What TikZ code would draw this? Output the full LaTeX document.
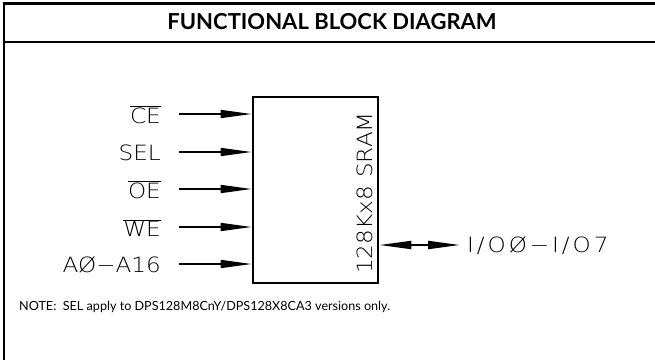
\documentclass[tikz,border=0pt]{standalone}
\usepackage{fontspec}
\usetikzlibrary{arrows.meta}
\setmainfont{Lato}
\newfontfamily\cadfont{DejaVu Sans}[UprightFont={* ExtraLight},FakeStretch=1.1]
\begin{document}
\begin{tikzpicture}[x=1pt,y=-1pt,
  frame/.style={line width=2.6pt},
  sig/.style={font=\cadfont\fontsize{21}{24}\selectfont, inner sep=0pt},
  inarrow/.style={line width=1.5pt,-{Triangle[length=31pt,width=8pt]}},
  ioarrow/.style={line width=2pt,{Triangle[length=32pt,width=8pt]}-{Triangle[length=32pt,width=8pt]}},
  blk/.style={draw,line width=2.6pt,minimum width=125pt,minimum height=186pt,inner sep=0pt}]
\useasboundingbox (0,0) rectangle (655,359);
% frame
\draw[frame] (4,370) -- (4,3.5) -- (670,3.5);
\draw[frame] (4,42) -- (670,42);
\node[font=\bfseries\fontsize{22}{24}\selectfont] (title) at (332,22) {FUNCTIONAL BLOCK DIAGRAM};
% block
\node[blk] (ram) at (315.5,190) {};
\node[sig,rotate=90] (ramlbl) at (365,193) {128Kx8\hspace{0.4em}SRAM};
% inputs
\node[sig,anchor=east] (ce) at (161,115) {$\overline{\mbox{\cadfont CE}}$};
\node[sig,anchor=east] (sel) at (161,153) {SEL};
\node[sig,anchor=east] (oe) at (161,190) {$\overline{\mbox{\cadfont OE}}$};
\node[sig,anchor=east] (we) at (161,228) {$\overline{\mbox{\cadfont WE}}$};
\node[sig,anchor=east] (addr) at (161,265) {AØ−A16};
\coordinate (cein) at (179,114);
\coordinate (selin) at (179,152);
\coordinate (oein) at (179,189);
\coordinate (wein) at (179,227);
\coordinate (addrin) at (179,264);
\draw[inarrow] (cein) -- (cein -| ram.west);
\draw[inarrow] (selin) -- (selin -| ram.west);
\draw[inarrow] (oein) -- (oein -| ram.west);
\draw[inarrow] (wein) -- (wein -| ram.west);
\draw[inarrow] (addrin) -- (addrin -| ram.west);
% output
\node[sig,anchor=west] (io) at (467,246) {\addfontfeature{LetterSpace=14}I/OØ−I/O7};
\coordinate (ioend) at (460,245);
\draw[ioarrow] (ioend -| ram.east) -- (ioend);
% note
\node[anchor=west,font=\fontsize{12.6}{14}\selectfont,inner sep=0pt] (note) at (19,307) {NOTE:\ \ SEL apply to DPS128M8CnY/DPS128X8CA3 versions only.};
\end{tikzpicture}
\end{document}
